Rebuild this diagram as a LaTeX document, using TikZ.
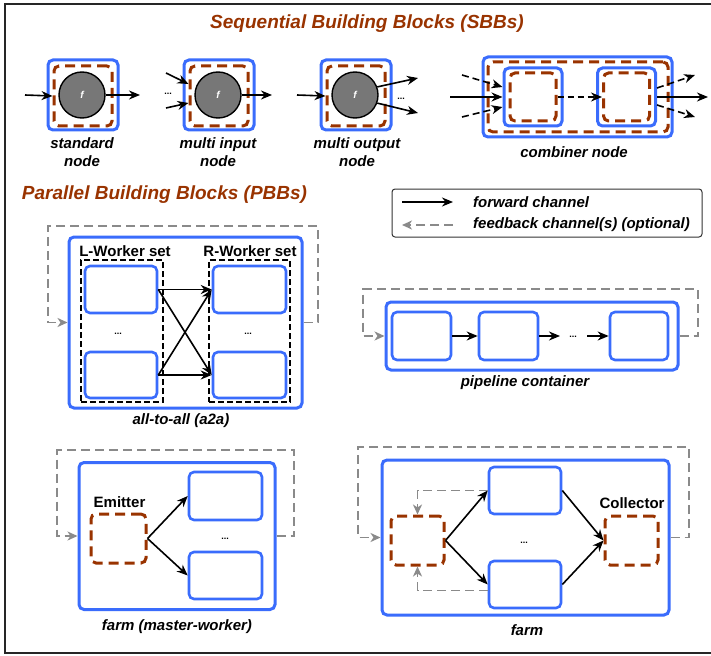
\documentclass[tikz,border=0pt]{standalone}
\usepackage{fontspec}
\setmainfont{Liberation Sans}
\usetikzlibrary{arrows.meta,calc}
\definecolor{bblue}{RGB}{58,108,252}
\definecolor{rust}{RGB}{153,51,0}
\definecolor{fbgray}{RGB}{138,138,138}
\definecolor{fgray}{RGB}{119,119,119}

\begin{document}
\begin{tikzpicture}[x=1pt,y=-1pt,
  blu/.style={draw=bblue,line width=3pt,rounded corners=5pt,inner sep=0pt},
  bluin/.style={draw=bblue,line width=2.6pt,rounded corners=5pt,inner sep=0pt},
  brn/.style={draw=rust,line width=3pt,dash pattern=on 10pt off 6pt,rounded corners=5pt,inner sep=0pt},
  blkset/.style={draw=black,line width=1.6pt,dash pattern=on 6pt off 3pt,inner sep=0pt},
  func/.style={circle,draw=black,line width=1.4pt,fill=fgray,minimum size=46pt,inner sep=0pt,
    text=white,font=\fontsize{10}{12}\selectfont\bfseries\itshape},
  fw/.style={line width=1.6pt,-{Stealth[length=11pt,width=9pt,inset=3.5pt]}},
  fwdash/.style={fw,dash pattern=on 7pt off 4pt},
  fb/.style={draw=fbgray,line width=1.8pt,dash pattern=on 9pt off 5pt},
  fbarr/.style={fb,-{Stealth[length=10pt,width=9pt,inset=3pt,fill=fbgray]}},
  lbl/.style={font=\fontsize{15}{18}\selectfont\bfseries\itshape,align=center,inner sep=0pt},
  setlbl/.style={font=\fontsize{15}{18}\selectfont\bfseries,inner sep=0pt},
  hdr/.style={font=\fontsize{19}{23}\selectfont\bfseries\itshape,text=rust,inner sep=0pt},
  dots/.style={font=\fontsize{9}{10}\selectfont\bfseries,inner sep=0pt}
]
\useasboundingbox (0,0) rectangle (711,655);
\fill[white] (0,0) rectangle (711,655);
% outer frame
\draw[line width=2pt,black!85] (715,4) -- (5,4) -- (5,653) -- (715,653);

% ---------------- Sequential building blocks ----------------
\node[hdr] (sbbt) at (367,24) {Sequential Building Blocks (SBBs)};

% standard node
\node[blu,minimum width=70pt,minimum height=70pt] (sn) at (83,95) {};
\node[brn,minimum width=58pt,minimum height=60pt] (snb) at (83,96) {};
\node[func] (snf) at (82,95) {f};
\coordinate (snin) at (25,95);
\coordinate (snout) at (140,95);
\draw[fw] (snin) -- (snb.west);
\draw[fw] (snf.east) -- (snout);
\node[lbl] (snl) at (82,152) {standard\\node};

% multi input node
\node[blu,minimum width=70pt,minimum height=70pt] (mi) at (219,95) {};
\node[brn,minimum width=58pt,minimum height=60pt] (mib) at (219,96) {};
\node[func] (mif) at (218,95) {f};
\coordinate (miin1) at (166,73);
\coordinate (miin2) at (166,108);
\coordinate (miout) at (272,95);
\draw[fw] (miin1) -- ([yshift=12pt]mib.west);
\draw[fw] (miin2) -- ([yshift=-7pt]mib.west);
\node[dots] (mid) at (168,94) {...};
\draw[fw] (mif.east) -- (miout);
\node[lbl] (mil) at (218,152) {multi input\\node};

% multi output node
\node[blu,minimum width=70pt,minimum height=70pt] (mo) at (356,95) {};
\node[brn,minimum width=58pt,minimum height=60pt] (mob) at (356,96) {};
\node[func] (mof) at (355,95) {f};
\coordinate (moin) at (297,95);
\coordinate (moout1) at (418,78);
\coordinate (moout2) at (418,113);
\draw[fw] (moin) -- (mob.west);
\draw[fw] (mof.20) -- (moout1);
\draw[fw] (mof.-20) -- (moout2);
\node[dots] (mod) at (401,99) {...};
\node[lbl] (mol) at (357,152) {multi output\\node};

% combiner node
\node[blu,minimum width=189pt,minimum height=80pt] (cb) at (577.5,97) {};
\node[brn,minimum width=180pt,minimum height=70pt] (cbb) at (578,97) {};
\node[blu,minimum width=58pt,minimum height=58pt] (cb1) at (533,97) {};
\node[brn,minimum width=46pt,minimum height=48pt] (cbb1) at (533,97) {};
\node[blu,minimum width=58pt,minimum height=58pt] (cb2) at (626.5,97) {};
\node[brn,minimum width=46pt,minimum height=48pt] (cbb2) at (626.5,97) {};
\coordinate (cbin) at (450,97);
\coordinate (cbin1) at (462,75);
\coordinate (cbin2) at (462,117);
\coordinate (cbout) at (708,97);
\coordinate (cbout1) at (695,75);
\coordinate (cbout2) at (695,117);
\draw[fw] (cbin) -- (cb1.west);
\draw[fwdash] (cbin1) -- ([yshift=10pt]cb1.west);
\draw[fwdash] (cbin2) -- ([yshift=-10pt]cb1.west);
\draw[fwdash,line width=1.3pt,dash pattern=on 6pt off 4pt] (cbb1.east) -- (cbb2.west);
\draw[fw] (cb2.east) -- (cbout);
\draw[fwdash] ([yshift=9pt]cb2.east) -- (cbout1);
\draw[fwdash] ([yshift=-8pt]cb2.east) -- (cbout2);
\node[lbl] (cbl) at (574,152) {combiner node};

% ---------------- Parallel building blocks ----------------
\node[hdr] (pbbt) at (164.5,195) {Parallel Building Blocks (PBBs)};

% legend
\node[draw=black!80,line width=1pt,rounded corners=3pt,minimum width=310pt,minimum height=48pt,inner sep=0pt] (lg) at (547,213) {};
\coordinate (lgf1) at (402,202);
\coordinate (lgf2) at (453,202);
\coordinate (lgb1) at (453,225);
\coordinate (lgb2) at (402,225);
\draw[fw] (lgf1) -- (lgf2);
\draw[fbarr] (lgb1) -- (lgb2);
\node[lbl,anchor=west] (lgft) at (473,202) {forward channel};
\node[lbl,anchor=west] (lgbt) at (473,225) {feedback channel(s) (optional)};

% all-to-all
\node[blu,minimum width=233pt,minimum height=171pt] (a2a) at (185.5,322.5) {};
\node[blkset,minimum width=82pt,minimum height=142pt] (lset) at (122,331) {};
\node[blkset,minimum width=81pt,minimum height=142pt] (rset) at (249.5,331) {};
\node[setlbl] (lsetl) at (125,251) {L-Worker set};
\node[setlbl] (rsetl) at (250,251) {R-Worker set};
\node[bluin,minimum width=72pt,minimum height=47pt] (lw1) at (121,289.5) {};
\node[bluin,minimum width=72pt,minimum height=46pt] (lw2) at (121,375) {};
\node[bluin,minimum width=73pt,minimum height=47pt] (rw1) at (249.5,289.5) {};
\node[bluin,minimum width=73pt,minimum height=46pt] (rw2) at (249.5,375) {};
\node[dots] (ld) at (118,334) {...};
\node[dots] (rd) at (248,334) {...};
\draw[fw] (lw1.east) -- (rw1.west);
\draw[fw] (lw1.east) -- (rw2.west);
\draw[fw] (lw2.east) -- (rw1.west);
\draw[fw] (lw2.east) -- (rw2.west);
\draw[fbarr] (a2a.east) -- (318,322.5) -- (318,226) -- (48,226) -- (48,322.5) -- (a2a.west);
\node[lbl] (a2al) at (181,421) {all-to-all (a2a)};

% pipeline
\node[blu,minimum width=292pt,minimum height=68pt] (pl) at (532,336) {};
\node[bluin,minimum width=59pt,minimum height=48pt] (p1) at (421.5,336) {};
\node[bluin,minimum width=59pt,minimum height=48pt] (p2) at (508.5,336) {};
\node[bluin,minimum width=58pt,minimum height=48pt] (p3) at (639,336) {};
\coordinate (p2o) at (560,336);
\coordinate (p3i) at (587,336);
\draw[fw] (p1.east) -- (p2.west);
\draw[fw] (p2.east) -- (p2o);
\node[dots] (pd) at (573,337) {...};
\draw[fw] (p3i) -- (p3.west);
\draw[fbarr] (pl.east) -- (698,336) -- (698,289) -- (363,289) -- (363,336) -- (pl.west);
\node[lbl] (pll) at (525,383) {pipeline container};

% farm (master-worker)
\node[blu,minimum width=196pt,minimum height=147pt] (fm) at (177,536) {};
\node[brn,minimum width=55pt,minimum height=49pt] (fme) at (118.5,538.5) {};
\node[setlbl] (fmel) at (119.5,502) {Emitter};
\node[bluin,minimum width=73pt,minimum height=48pt] (fmw1) at (225.5,496) {};
\node[bluin,minimum width=73pt,minimum height=47pt] (fmw2) at (225.5,575.5) {};
\node[dots] (fmd) at (225,539) {...};
\draw[fw] (fme.east) -- (fmw1.west);
\draw[fw] (fme.east) -- (fmw2.west);
\draw[fbarr] (fm.east) -- (294,536) -- (294,450) -- (57,450) -- (57,536) -- (fm.west);
\node[lbl] (fml) at (177,627) {farm (master-worker)};

% farm with collector
\node[blu,minimum width=287pt,minimum height=155pt] (fa) at (525.5,537.5) {};
\node[brn,minimum width=53pt,minimum height=49pt] (fae) at (417.5,540.5) {};
\node[brn,minimum width=53pt,minimum height=49pt] (fac) at (631.5,540.5) {};
\node[setlbl] (facl) at (632,503) {Collector};
\node[bluin,minimum width=72pt,minimum height=47pt] (faw1) at (525,490.5) {};
\node[bluin,minimum width=72pt,minimum height=47pt] (faw2) at (525,584.5) {};
\node[dots] (fad) at (524,543) {...};
\draw[fw] (fae.east) -- (faw1.west);
\draw[fw] (fae.east) -- (faw2.west);
\draw[fw] (faw1.east) -- (fac.west);
\draw[fw] (faw2.east) -- (fac.west);
\draw[fbarr] (faw1.west) -| (fae.north);
\draw[fbarr] ([yshift=-6pt]faw2.west) -| (fae.south);
\draw[fbarr] (fa.east) -- (689,537.5) -- (689,447) -- (358,447) -- (358,537.5) -- (fa.west);
\node[lbl] (fal) at (527,630) {farm};
\end{tikzpicture}
\end{document}
